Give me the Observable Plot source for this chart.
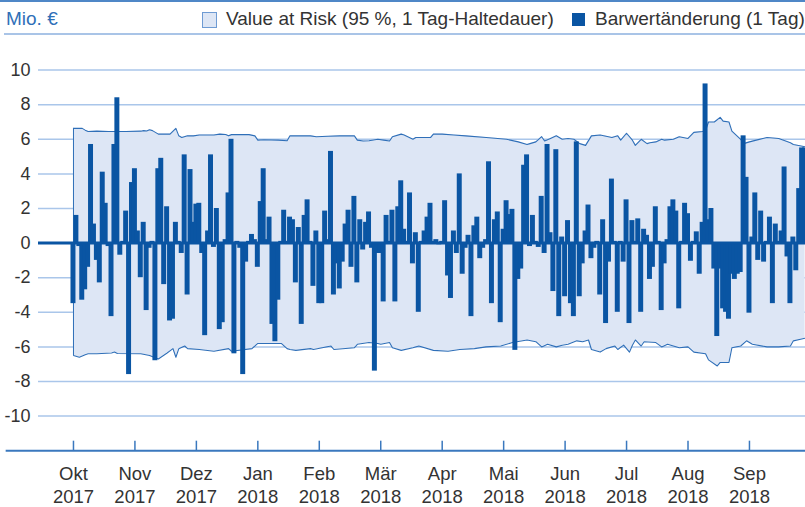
<!DOCTYPE html>
<html>
<head>
<meta charset="utf-8">
<script src="https://cdn.jsdelivr.net/npm/d3@7"></script>
<script src="https://cdn.jsdelivr.net/npm/@observablehq/plot@0.6"></script>
<style>
  html, body { margin: 0; padding: 0; background: #fff; }
  #wrap { width: 805px; height: 507px; overflow: hidden; font-family: "Liberation Sans", Arial, sans-serif; }
  #hdr { position: relative; width: 805px; height: 36px; overflow: hidden; }
  #hdr .t { position: absolute; white-space: nowrap; font-size: 19px; line-height: 20px; }
  #chart svg { display: block; }
</style>
</head>
<body>
<div id="wrap">
  <div id="hdr">
    <div style="position:absolute;left:0;top:0;width:805px;height:2px;background:#4f87c7"></div>
    <div style="position:absolute;left:4px;top:33px;width:801px;height:2px;background:#a9c4e7"></div>
    <div class="t" style="left:6px;top:9px;color:#2f70b8">Mio. €</div>
    <div style="position:absolute;left:202px;top:12px;width:13px;height:14px;background:#dde6f5;border:1px solid #6e9bd3"></div>
    <div class="t" style="left:226px;top:9px;color:#333">Value at Risk (95 %, 1 Tag-Haltedauer)</div>
    <div style="position:absolute;left:572px;top:13px;width:13px;height:13px;background:#0a55a3"></div>
    <div class="t" style="left:595px;top:9px;color:#333">Barwertänderung (1 Tag)</div>
  </div>
  <div id="chart"></div>
</div>
<script>
// Month ticks (trading-day index of first day in month)
const monthDays = [0, 21, 42, 63, 84, 105, 126, 147, 168, 189, 210, 231];
const monthNames = ["Okt", "Nov", "Dez", "Jan", "Feb", "Mär", "Apr", "Mai", "Jun", "Jul", "Aug", "Sep"];
const monthYears = ["2017", "2017", "2017", "2018", "2018", "2018", "2018", "2018", "2018", "2018", "2018", "2018"];
const yTicks = [-10, -8, -6, -4, -2, 0, 2, 4, 6, 8, 10];

// Barwertänderung (1 Tag), one value per trading day, Mio. €
const barValues = [
  -3.5, 1.6, -0.2, -3.3, -2.7, -1.4, 5.7, 1.1, -1.0, -2.3,
  4.1, 2.3, -0.2, -4.25, 5.7, 8.4, -0.7, 0.1, 1.85, -7.6,
  3.5, 4.3, 0.7, -2.0, 1.2, -3.9, -0.3, 0.1, -6.8, 4.3,
  4.9, -2.4, 2.1, -4.5, -4.4, 1.2, 0.1, -0.6, 5.1, -3.0,
  4.25, 1.2, 2.25, 2.3, -0.6, -5.35, 0.7, 5.1, -0.25, 2.0,
  -5.0, -4.6, 0.2, 2.9, 6.0, -6.4, 0.1, -0.3, -7.6, -1.1,
  0.1, 0.5, 0.2, -1.4, 2.4, 4.3, 0.2, 1.5, -4.7, -5.7,
  -3.3, 0.1, 1.9, 0.1, 1.5, 1.35, -2.3, 0.9, -4.7, 1.6,
  2.5, 0.1, -2.5, 0.7, -3.5, -3.5, 1.85, 0.2, 5.3, -3.0,
  -1.2, -2.65, -1.1, 1.1, 1.9, -1.4, 2.7, -2.3, 1.35, -0.4,
  1.2, 1.8, -0.3, -7.4, -0.6, -0.6, -3.4, 1.6, 0.1, 1.9,
  -3.4, 2.1, 3.6, 0.8, 0.1, 2.9, -1.2, 0.6, -4.0, 0.1,
  0.7, 1.5, 2.3, 0.1, 0.2, -0.1, 0.1, 2.45, -1.9, -3.2,
  0.7, -0.6, 4.0, -1.8, -0.3, 0.45, -4.25, 1.0, 1.5, -0.9,
  -0.3, 0.2, 4.7, -3.5, 1.35, 1.8, -4.6, 0.8, 2.45, 1.65,
  1.95, -6.2, -2.1, -1.5, 4.5, 5.1, -0.2, 1.6, 0.1, -0.25,
  2.7, -0.6, 5.7, 0.6, -2.8, 5.4, -4.25, 0.35, -3.1, 1.3,
  -3.5, -4.25, 5.85, -3.1, -1.2, 0.7, 2.2, -0.9, -0.3, 0.1,
  -3.0, 1.35, -4.65, -1.1, 3.7, 0.1, -4.0, 0.1, -1.1, 2.5,
  -4.65, 1.3, 0.1, 1.4, -4.0, 0.8, 0.45, -2.1, -1.4, 2.1,
  0.1, -3.9, -1.2, 0.2, 2.1, 2.5, 1.85, -3.8, 0.1, 2.3,
  1.7, -1.05, 0.1, 0.65, -1.8, 1.2, 9.2, 1.35, 2.0, -1.5,
  -5.4, -1.5, -3.8, -4.0, -4.4, -1.8, -2.1, -1.8, -1.7, 6.2,
  3.8, -4.05, 0.35, 2.9, -1.0, 1.85, -1.1, 0.1, 1.5, -3.5,
  1.1, 0.1, 0.7, 4.4, -0.8, -3.5, 0.35, -1.6, 3.15, 5.5, 5.5
];

// Value at Risk upper bound, read at these trading days
const varUpperDays = [0, 3, 4, 5, 8, 12, 18, 23, 24, 25, 26, 27, 28, 29, 33, 35, 36, 37, 39, 41, 43, 48, 50, 52, 53, 54, 60, 62, 63, 65, 70, 73, 74, 81, 83, 87, 91, 96, 97, 99, 101, 104, 106, 108, 109, 112, 113, 116, 117, 122, 123, 126, 130, 134, 141, 148, 152, 155, 156, 158, 160, 161, 163, 165, 167, 169, 171, 173, 175, 177, 180, 184, 186, 187, 189, 191, 192, 194, 196, 197, 199, 201, 202, 205, 207, 210, 212, 215, 216, 217, 219, 221, 222, 224, 225, 228, 229, 231, 234, 237, 241, 245, 246, 250];
const varUpper = [6.63, 6.63, 6.53, 6.45, 6.47, 6.45, 6.45, 6.47, 6.5, 6.48, 6.55, 6.5, 6.4, 6.3, 6.3, 6.63, 6.2, 6.1, 6.2, 6.2, 6.25, 6.25, 6.3, 6.28, 6.2, 6.27, 6.27, 6.2, 5.95, 5.97, 5.95, 5.92, 6.2, 6.2, 6.15, 6.18, 6.2, 6.2, 5.95, 5.9, 5.92, 6.0, 5.95, 5.9, 6.15, 6.3, 6.25, 6.0, 6.1, 6.1, 6.3, 6.3, 6.25, 6.2, 6.1, 6.0, 5.85, 5.7, 5.75, 5.85, 6.15, 5.9, 6.05, 6.2, 6.0, 6.05, 6.0, 5.75, 5.65, 6.2, 6.25, 6.1, 6.2, 5.95, 6.35, 5.95, 5.65, 6.0, 5.75, 5.8, 5.85, 6.0, 5.95, 6.0, 6.15, 6.05, 6.4, 6.45, 6.5, 7.0, 7.0, 7.27, 7.05, 7.0, 6.47, 6.0, 5.75, 5.85, 5.98, 6.1, 6.05, 5.8, 5.7, 5.57];

// Value at Risk lower bound, read at these trading days
const varLowerDays = [0, 2, 4, 5, 8, 13, 14, 15, 23, 26, 29, 32, 34, 35, 36, 38, 39, 43, 48, 53, 54, 61, 63, 71, 73, 74, 76, 81, 82, 88, 89, 96, 97, 101, 104, 105, 108, 109, 112, 116, 118, 123, 128, 132, 137, 141, 146, 150, 155, 158, 160, 162, 165, 167, 169, 172, 174, 176, 177, 180, 182, 185, 186, 188, 190, 191, 192, 194, 195, 199, 201, 203, 207, 210, 212, 216, 217, 220, 221, 224, 225, 228, 230, 232, 237, 241, 245, 246, 250];
const varLower = [-6.5, -6.6, -6.45, -6.4, -6.4, -6.35, -6.3, -6.38, -6.4, -6.5, -6.7, -6.35, -6.1, -6.6, -6.1, -5.95, -6.1, -6.15, -6.25, -6.1, -6.25, -6.1, -5.8, -5.8, -6.1, -6.15, -6.2, -6.1, -6.15, -5.95, -6.15, -6.05, -5.85, -5.75, -5.8, -5.85, -5.75, -6.05, -6.2, -6.05, -5.95, -6.2, -6.25, -6.15, -6.1, -6.0, -5.95, -5.75, -5.6, -5.7, -6.0, -5.85, -6.0, -5.9, -5.85, -5.65, -5.7, -5.6, -6.15, -6.3, -6.1, -5.95, -6.15, -5.9, -6.3, -5.9, -5.6, -5.95, -5.7, -5.75, -6.0, -5.85, -6.05, -6.0, -6.3, -6.4, -6.75, -7.1, -6.9, -6.9, -6.05, -5.95, -5.65, -5.85, -6.0, -6.0, -5.95, -5.65, -5.5];

const bars = barValues.map((v, i) => ({day: i, v}));
const upper = varUpperDays.map((d, i) => ({day: d, v: varUpper[i]}));
const lower = varLowerDays.map((d, i) => ({day: d, v: varLower[i]}));
const months = monthDays.map((d, i) => ({day: d, name: monthNames[i], year: monthYears[i]}));

const BAR = "#0a55a3";
const BAND = "#dde6f5";
const BANDLINE = "#2f6fb8";
const GRID = "#aac6ea";
const AXIS = "#3a78be";

const chart = Plot.plot({
  width: 805,
  height: 471,
  marginLeft: 38,
  marginRight: 0,
  marginTop: 33.6,
  marginBottom: 56.8,
  style: {fontFamily: "'Liberation Sans', Arial, sans-serif", fontSize: "18px", color: "#333", background: "transparent", overflow: "visible"},
  x: {domain: [-11.95, 250.15], axis: null},
  y: {domain: [-12, 10], axis: null},
  marks: [
    Plot.gridY(yTicks.filter(d => d !== 0), {stroke: GRID, strokeOpacity: 1, strokeWidth: 1.5}),
    Plot.areaY(upper, {x: "day", y1: 0, y2: "v", fill: BAND}),
    Plot.areaY(lower, {x: "day", y1: 0, y2: "v", fill: BAND}),
    Plot.ruleX([0], {y1: d => upper[0].v, y2: d => lower[0].v, stroke: BANDLINE, strokeWidth: 1}),
    Plot.lineY(upper, {x: "day", y: "v", stroke: BANDLINE, strokeWidth: 1.1}),
    Plot.lineY(lower, {x: "day", y: "v", stroke: BANDLINE, strokeWidth: 1.1}),
    Plot.rectY(bars, {x1: d => d.day - 0.85, x2: d => d.day + 0.85, y: "v", fill: BAR}),
    Plot.ruleY([0], {stroke: BAR, strokeWidth: 3}),
    Plot.axisY(yTicks, {anchor: "left", label: null, tickSize: 0, tickPadding: 8, tickFormat: d => String(d), fontSize: 18, fill: "#333"}),
    Plot.ruleY([-12], {x1: -23, x2: 250.15, stroke: AXIS, strokeWidth: 2}),
    Plot.ruleX(months, {x: "day", y1: -12, y2: -11.45, stroke: AXIS, strokeWidth: 1.5}),
    Plot.text(months, {x: "day", y: -12, text: "name", dy: 23, fontSize: 18.5, fill: "#333"}),
    Plot.text(months, {x: "day", y: -12, text: "year", dy: 46, fontSize: 18.5, fill: "#333"})
  ]
});
document.getElementById("chart").appendChild(chart);
</script>
</body>
</html>
